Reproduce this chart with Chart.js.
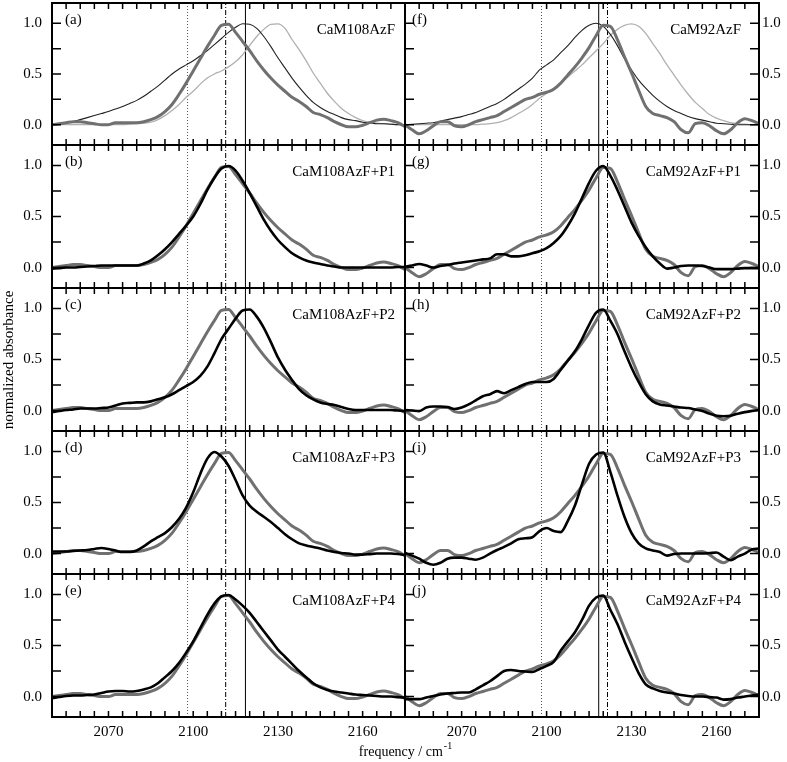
<!DOCTYPE html>
<html>
<head>
<meta charset="utf-8">
<title>CaM AzF IR spectra</title>
<script src="https://cdn.jsdelivr.net/npm/chart.js@4.4.1/dist/chart.umd.min.js"></script>
<style>
  html, body { margin: 0; padding: 0; background: #fff; }
  #wrap { position: relative; width: 787px; height: 762px; overflow: hidden; }
  #wrap canvas { position: absolute; left: 0; top: 0; }
</style>
</head>
<body>
<div id="wrap"></div>
<script>
// frequency grid (cm-1)
const freq = [2050, 2052.5, 2055, 2057.5, 2060, 2062.5, 2065, 2067.5, 2070, 2072.5,
  2075, 2077.5, 2080, 2082.5, 2085, 2087.5, 2090, 2092.5, 2095, 2097.5,
  2100, 2102.5, 2105, 2107.5, 2110, 2112.5, 2115, 2117.5, 2120, 2122.5,
  2125, 2127.5, 2130, 2132.5, 2135, 2137.5, 2140, 2142.5, 2145, 2147.5,
  2150, 2152.5, 2155, 2157.5, 2160, 2162.5, 2165, 2167.5, 2170, 2172.5,
  2175];

// CaM108AzF (gray, repeated in a-e)
const cam108 = [0.00, 0.01, 0.02, 0.03, 0.03, 0.02, 0.01, 0.00, 0.00, 0.02,
  0.02, 0.02, 0.02, 0.03, 0.05, 0.08, 0.13, 0.20, 0.30, 0.41,
  0.53, 0.65, 0.77, 0.88, 0.98, 0.99, 0.91, 0.82, 0.73, 0.63,
  0.54, 0.46, 0.39, 0.33, 0.27, 0.23, 0.18, 0.12, 0.10, 0.07,
  0.03, 0.00, -0.02, -0.02, -0.005, 0.02, 0.045, 0.055, 0.04, 0.02,
  -0.02];
const cam108Dark = [0.00, 0.005, 0.015, 0.03, 0.05, 0.07, 0.09, 0.11, 0.13, 0.155,
  0.18, 0.21, 0.24, 0.28, 0.33, 0.38, 0.44, 0.50, 0.55, 0.59,
  0.63, 0.68, 0.73, 0.79, 0.85, 0.91, 0.96, 0.995, 0.99, 0.95,
  0.87, 0.77, 0.66, 0.56, 0.46, 0.37, 0.29, 0.22, 0.17, 0.13,
  0.10, 0.07, 0.05, 0.04, 0.025, 0.02, 0.01, 0.01, 0.005, 0.0,
  0.0];
const cam108Light = [0, 0, 0, 0, 0, 0, 0, 0, 0, 0,
  0, 0.005, 0.01, 0.015, 0.025, 0.05, 0.09, 0.14, 0.20, 0.27,
  0.33, 0.40, 0.46, 0.50, 0.53, 0.57, 0.62, 0.69, 0.78, 0.87,
  0.94, 0.99, 0.995, 0.95, 0.84, 0.74, 0.63, 0.51, 0.41, 0.31,
  0.23, 0.16, 0.11, 0.07, 0.04, 0.025, 0.015, 0.01, 0.005, 0,
  0];
const cam108P1 = [-0.01, -0.005, 0.0, 0.0, 0.005, 0.01, 0.015, 0.02, 0.02, 0.02,
  0.02, 0.02, 0.02, 0.04, 0.07, 0.12, 0.18, 0.25, 0.33, 0.41,
  0.50, 0.62, 0.76, 0.88, 0.97, 0.995, 0.95, 0.85, 0.73, 0.60,
  0.47, 0.36, 0.27, 0.20, 0.14, 0.10, 0.07, 0.05, 0.035, 0.02,
  0.01, 0.0, 0.0, 0.0, 0.0, 0.0, 0.0, 0.0, 0.0, 0.005,
  0.005];
const cam108P2 = [-0.015, -0.005, 0.005, 0.01, 0.02, 0.02, 0.02, 0.025, 0.03, 0.05,
  0.07, 0.075, 0.08, 0.08, 0.09, 0.11, 0.13, 0.16, 0.20, 0.24,
  0.28, 0.34, 0.43, 0.56, 0.70, 0.80, 0.90, 0.98, 0.99, 0.92,
  0.81, 0.67, 0.52, 0.40, 0.30, 0.21, 0.15, 0.11, 0.08, 0.065,
  0.055, 0.035, 0.015, 0.005, 0.005, 0.005, 0.005, 0.005, 0.005, 0.0,
  -0.005];
const cam108P3 = [0.02, 0.02, 0.02, 0.025, 0.03, 0.035, 0.045, 0.055, 0.045, 0.03,
  0.015, 0.015, 0.03, 0.07, 0.12, 0.16, 0.20, 0.26, 0.34, 0.45,
  0.60, 0.78, 0.93, 0.995, 0.95, 0.86, 0.72, 0.57, 0.47, 0.41,
  0.36, 0.31, 0.25, 0.19, 0.14, 0.10, 0.08, 0.065, 0.05, 0.03,
  0.015, 0.005, 0.0, -0.01, -0.01, -0.005, 0.0, 0.0, 0.0, -0.005,
  -0.015];
const cam108P4 = [-0.015, -0.005, 0.005, 0.01, 0.01, 0.015, 0.02, 0.035, 0.05, 0.055,
  0.055, 0.05, 0.055, 0.07, 0.09, 0.13, 0.19, 0.25, 0.33, 0.43,
  0.54, 0.67, 0.80, 0.91, 0.98, 0.995, 0.95, 0.89, 0.82, 0.73,
  0.64, 0.55, 0.46, 0.39, 0.32, 0.25, 0.19, 0.13, 0.09, 0.065,
  0.05, 0.04, 0.03, 0.02, 0.015, 0.01, 0.005, 0.0, 0.0, -0.005,
  -0.01];

// CaM92AzF (gray, repeated in f-j)
const cam92 = [0.00, -0.05, -0.09, -0.06, -0.01, 0.03, 0.03, -0.01, -0.02, 0.00,
  0.03, 0.05, 0.07, 0.09, 0.13, 0.17, 0.21, 0.25, 0.27, 0.30,
  0.32, 0.35, 0.41, 0.49, 0.57, 0.66, 0.76, 0.88, 0.98, 0.97,
  0.84, 0.67, 0.51, 0.34, 0.18, 0.11, 0.09, 0.07, 0.03, -0.05,
  -0.08, 0.01, 0.02, -0.01, -0.06, -0.09, -0.05, 0.02, 0.06, 0.04,
  0.01];
const cam92Dark = [0.00, 0.005, 0.01, 0.015, 0.02, 0.035, 0.05, 0.065, 0.08, 0.10,
  0.12, 0.15, 0.18, 0.21, 0.25, 0.30, 0.35, 0.40, 0.46, 0.54,
  0.59, 0.64, 0.71, 0.78, 0.86, 0.93, 0.98, 1.00, 0.97, 0.89,
  0.78, 0.65, 0.54, 0.44, 0.36, 0.29, 0.23, 0.18, 0.14, 0.11,
  0.08, 0.06, 0.045, 0.03, 0.015, 0.01, 0.005, 0.0, 0.0, 0.0,
  0.0];
const cam92Light = [0, 0, 0, 0, 0, 0, 0, 0, 0, 0,
  0, 0.005, 0.01, 0.02, 0.04, 0.07, 0.11, 0.15, 0.20, 0.26,
  0.31, 0.36, 0.41, 0.47, 0.53, 0.59, 0.66, 0.73, 0.80, 0.88,
  0.94, 0.98, 0.995, 0.97, 0.90, 0.80, 0.70, 0.59, 0.49, 0.39,
  0.30, 0.22, 0.16, 0.10, 0.065, 0.04, 0.02, 0.01, 0.005, 0,
  0];
const cam92P1 = [0.01, 0.02, 0.035, 0.02, 0.0, 0.015, 0.025, 0.04, 0.05, 0.06,
  0.07, 0.08, 0.09, 0.13, 0.13, 0.11, 0.11, 0.12, 0.14, 0.16,
  0.19, 0.24, 0.31, 0.41, 0.53, 0.68, 0.83, 0.95, 0.995, 0.90,
  0.76, 0.60, 0.44, 0.31, 0.20, 0.11, 0.04, -0.01, 0.0, 0.015,
  0.02, 0.02, 0.015, 0.0, -0.015, -0.015, -0.015, -0.01, -0.005, -0.005,
  -0.005];
const cam92P2 = [0.005, 0.0, -0.005, 0.03, 0.04, 0.04, 0.035, 0.015, 0.03, 0.06,
  0.10, 0.14, 0.16, 0.19, 0.17, 0.20, 0.23, 0.26, 0.28, 0.28,
  0.28, 0.31, 0.40, 0.49, 0.58, 0.70, 0.84, 0.96, 0.99, 0.88,
  0.75, 0.58, 0.42, 0.28, 0.16, 0.09, 0.06, 0.05, 0.04, 0.03,
  0.025, 0.01, -0.005, -0.03, -0.05, -0.055, -0.05, -0.03, -0.015, -0.005,
  0.005];
const cam92P3 = [0.005, -0.02, -0.05, -0.09, -0.11, -0.09, -0.05, -0.04, -0.04, -0.05,
  -0.06, -0.04, 0.0, 0.035, 0.065, 0.10, 0.14, 0.15, 0.16, 0.22,
  0.25, 0.22, 0.21, 0.32, 0.47, 0.68, 0.88, 0.97, 0.99, 0.80,
  0.57, 0.36, 0.20, 0.10, 0.05, 0.03, 0.015, -0.02, -0.005, 0.0,
  0.0, 0.0, 0.0, 0.005, 0.01, -0.03, -0.065, -0.03, 0.0, 0.04,
  0.05];
const cam92P4 = [-0.025, -0.025, -0.025, -0.01, 0.005, 0.02, 0.03, 0.035, 0.04, 0.04,
  0.07, 0.11, 0.15, 0.20, 0.25, 0.26, 0.25, 0.245, 0.24, 0.27,
  0.30, 0.34, 0.45, 0.54, 0.63, 0.75, 0.89, 0.97, 0.99, 0.85,
  0.71, 0.54, 0.38, 0.23, 0.12, 0.08, 0.055, 0.04, 0.03, 0.015,
  0.005, 0.0, 0.0, -0.005, -0.01, -0.03, -0.025, -0.01, 0.0, 0.01,
  0.02];

// vertical marker lines (cm-1) and their styles
const marks108 = [2098, 2111.5, 2118.5];
const marks92 = [2098.2, 2118.4, 2121.5];
const markKinds108 = ["dot", "dashdot", "solid"];
const markKinds92 = ["dot", "solid", "dashdot"];

// tick labels
const xLabels = [2070, 2100, 2130, 2160];
const yLabels = [0, 0.5, 1];
const yTicks = [0, 0.25, 0.5, 0.75, 1];
const xTicks = [];
for (let f = 2055; f <= 2170; f += 5) xTicks.push(f);

const rowsY = [3, 145, 288, 431, 574, 717];
const colsX = [52, 405, 759];

const lineStyles = {
  black: { color: "#000", width: 2.6 },
  gray: { color: "#707070", width: 3 },
  thinDark: { color: "#222", width: 1.1 },
  thinLight: { color: "#b0b0b0", width: 1.3 },
};
const markStyles = {
  dot: { color: "#555", dash: [1, 2] },
  dashdot: { color: "#000", dash: [5, 2, 1, 2] },
  solid: { color: "#000", dash: [] },
};

const panels = [
  { col: 0, row: 0, tag: "(a)", name: "CaM108AzF", lines: [[cam108, "gray"], [cam108Dark, "thinDark"], [cam108Light, "thinLight"]] },
  { col: 0, row: 1, tag: "(b)", name: "CaM108AzF+P1", lines: [[cam108P1, "black"], [cam108, "gray"]] },
  { col: 0, row: 2, tag: "(c)", name: "CaM108AzF+P2", lines: [[cam108P2, "black"], [cam108, "gray"]] },
  { col: 0, row: 3, tag: "(d)", name: "CaM108AzF+P3", lines: [[cam108P3, "black"], [cam108, "gray"]] },
  { col: 0, row: 4, tag: "(e)", name: "CaM108AzF+P4", lines: [[cam108P4, "black"], [cam108, "gray"]] },
  { col: 1, row: 0, tag: "(f)", name: "CaM92AzF", lines: [[cam92, "gray"], [cam92Dark, "thinDark"], [cam92Light, "thinLight"]] },
  { col: 1, row: 1, tag: "(g)", name: "CaM92AzF+P1", lines: [[cam92P1, "black"], [cam92, "gray"]] },
  { col: 1, row: 2, tag: "(h)", name: "CaM92AzF+P2", lines: [[cam92P2, "black"], [cam92, "gray"]] },
  { col: 1, row: 3, tag: "(i)", name: "CaM92AzF+P3", lines: [[cam92P3, "black"], [cam92, "gray"]] },
  { col: 1, row: 4, tag: "(j)", name: "CaM92AzF+P4", lines: [[cam92P4, "black"], [cam92, "gray"]] },
];

const FONT = '"Liberation Serif", "Times New Roman", serif';

// frame, inward ticks and texts for each panel
const framePlugin = {
  id: "frame",
  afterDatasetsDraw(chart, args, o) {
    const { ctx, chartArea: a } = chart;
    const x = chart.scales.x;
    const y = chart.scales.y;
    const right = o.side === "right";
    ctx.save();
    ctx.strokeStyle = "#000";
    ctx.lineWidth = 1.5;
    ctx.beginPath();
    xTicks.forEach((v) => {
      const px = x.getPixelForValue(v);
      ctx.moveTo(px, a.top);
      ctx.lineTo(px, a.top + 6);
      ctx.moveTo(px, a.bottom);
      ctx.lineTo(px, a.bottom - 6);
    });
    yTicks.forEach((v) => {
      const py = y.getPixelForValue(v);
      ctx.moveTo(a.left, py);
      ctx.lineTo(a.left + 9, py);
      if (right) {
        ctx.moveTo(a.right, py);
        ctx.lineTo(a.right - 9, py);
      }
    });
    ctx.stroke();
    ctx.lineWidth = 2;
    ctx.strokeRect(a.left, a.top, a.right - a.left, a.bottom - a.top);

    ctx.fillStyle = "#000";
    ctx.font = "15px " + FONT;
    ctx.textBaseline = "middle";
    ctx.textAlign = "left";
    ctx.fillText(o.tag, a.left + (right ? 7 : 13), a.top + 17);
    ctx.textAlign = "right";
    ctx.fillText(o.name, a.right - (right ? 18 : 10), a.top + 27);

    yLabels.forEach((v) => {
      const py = y.getPixelForValue(v);
      if (right) {
        ctx.textAlign = "left";
        ctx.fillText(v.toFixed(1), a.right + 3, py);
      } else {
        ctx.textAlign = "right";
        ctx.fillText(v.toFixed(1), a.left - 10, py);
      }
    });
    if (o.bottom) {
      ctx.textAlign = "center";
      xLabels.forEach((v) => ctx.fillText(String(v), x.getPixelForValue(v), a.bottom + 15));
    }
    if (o.titles) {
      ctx.font = "14px " + FONT;
      const main = "frequency / cm";
      const wMain = ctx.measureText(main).width;
      ctx.font = "10px " + FONT;
      const wSup = ctx.measureText("-1").width;
      const x0 = 405 - (wMain + wSup) / 2;
      ctx.textAlign = "left";
      ctx.font = "14px " + FONT;
      ctx.fillText(main, x0, 752);
      ctx.font = "10px " + FONT;
      ctx.fillText("-1", x0 + wMain + 1, 746);

      ctx.font = "15px " + FONT;
      ctx.translate(9, 360);
      ctx.rotate(-Math.PI / 2);
      ctx.textAlign = "center";
      ctx.fillText("normalized absorbance", 0, 0);
    }
    ctx.restore();
  },
};

const wrap = document.getElementById("wrap");

panels.forEach((p, idx) => {
  const canvas = document.createElement("canvas");
  canvas.width = 787;
  canvas.height = 762;
  wrap.appendChild(canvas);

  const x0 = colsX[p.col];
  const x1 = colsX[p.col + 1];
  const y0 = rowsY[p.row];
  const y1 = rowsY[p.row + 1];

  const datasets = p.lines.map(([vals, kind]) => ({
    data: freq.map((f, i) => ({ x: f, y: vals[i] })),
    borderColor: lineStyles[kind].color,
    borderWidth: lineStyles[kind].width,
    cubicInterpolationMode: "monotone",
    pointRadius: 0,
    fill: false,
  }));

  const marks = p.col === 0 ? marks108 : marks92;
  const kinds = p.col === 0 ? markKinds108 : markKinds92;
  marks.forEach((m, i) => {
    const s = markStyles[kinds[i]];
    datasets.push({
      data: [{ x: m, y: -0.2 }, { x: m, y: 1.2 }],
      borderColor: s.color,
      borderWidth: 1,
      borderDash: s.dash,
      tension: 0,
      pointRadius: 0,
      fill: false,
    });
  });

  new Chart(canvas, {
    type: "line",
    data: { datasets },
    options: {
      responsive: false,
      animation: false,
      devicePixelRatio: 1,
      layout: { padding: { left: x0, right: 787 - x1, top: y0, bottom: 762 - y1 } },
      scales: {
        x: { type: "linear", min: 2050, max: 2175, display: false },
        y: { min: -0.2, max: 1.2, display: false },
      },
      plugins: {
        legend: { display: false },
        tooltip: { enabled: false },
        frame: {
          side: p.col === 0 ? "left" : "right",
          tag: p.tag,
          name: p.name,
          bottom: p.row === 4,
          titles: idx === 4,
        },
      },
    },
    plugins: [framePlugin],
  });
});
</script>
</body>
</html>
